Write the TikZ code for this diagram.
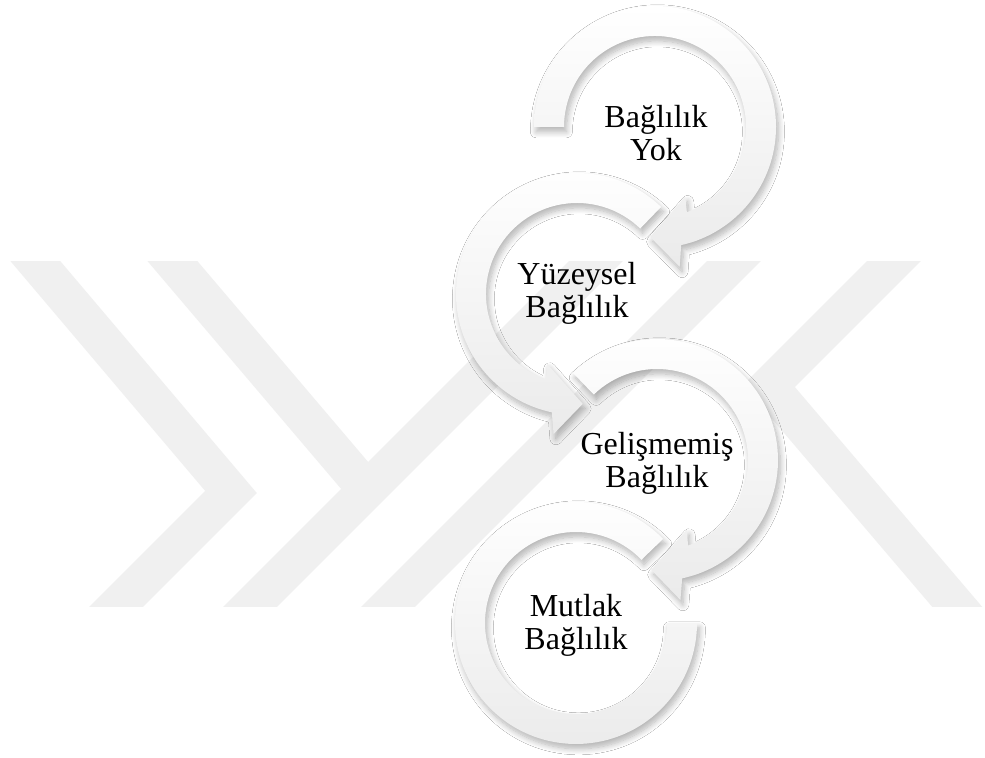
\documentclass[tikz,border=0pt]{standalone}
\usepackage{fontspec}
\setmainfont{Liberation Serif}
\usetikzlibrary{shadows.blur}
\definecolor{wmark}{gray}{0.94}

\begin{document}
\begin{tikzpicture}[x=0.5pt,y=0.5pt,
	arrowring/.style={top color=white, bottom color=gray!16,
		blur shadow={shadow xshift=1.2pt, shadow yshift=-2.4pt, shadow blur radius=3pt, shadow blur steps=10, shadow opacity=30}},
	band/.style={draw=wmark, line width=19pt, line join=miter, miter limit=10},
	lbl/.style={align=center, inner sep=0pt, font=\fontsize{16}{16.5}\selectfont}]
	\useasboundingbox (0,0) rectangle (985,-758);
	\fill[white] (0,0) rectangle (985,-758);
	
	%watermark
	\begin{scope}
		\clip (0,-262) rectangle (985,-607);
		\draw[band] (9,-230) -- (231,-492) -- (80,-643);
		\draw[band] (146,-230) -- (367,-490);
		\draw[band] (214,-643) -- (631,-226);
		\draw[band] (352,-643) -- (769,-226);
		\draw[band] (929,-226) -- (769,-386) -- (988,-643);
	\end{scope}
	
	\coordinate (c1) at (655,-127);
	\coordinate (c2) at (577,-294);
	\coordinate (c3) at (657,-460);
	\coordinate (c4) at (576,-623);
	
	%rings, last one first
	\path[arrowring, shift={(c4)}] (44:121) arc[start angle=44, end angle=360, radius=121]
		-- (0:91) arc[start angle=360, end angle=44, radius=91] -- cycle;
	\path[arrowring, shift={(c3)}] (134:121) arc[start angle=134, end angle=-78, radius=121]
		-- (-80.5:142) -- (-93:110) -- (-67:76) -- (-70:91)
		arc[start angle=-70, end angle=134, radius=91] -- cycle;
	\path[arrowring, shift={(c2)}] (46:121) arc[start angle=46, end angle=258, radius=121]
		-- (260.5:142) -- (273:110) -- (247:76) -- (250:91)
		arc[start angle=250, end angle=46, radius=91] -- cycle;
	\path[arrowring, shift={(c1)}] (180:121) arc[start angle=180, end angle=-77.5, radius=121]
		-- (-80:142) -- (-92.5:110) -- (-66.5:76) -- (-69.5:91)
		arc[start angle=-69.5, end angle=180, radius=91] -- cycle;
	
	%labels
	\node[lbl] (yok) at (656,-133) {Bağlılık\\Yok};
	\node[lbl] (yuzeysel) at (577,-293) {Yüzeysel\\Bağlılık};
	\node[lbl] (gelismemis) at (657,-463) {Gelişmemiş\\Bağlılık};
	\node[lbl] (mutlak) at (576,-625) {Mutlak\\Bağlılık};
\end{tikzpicture}
\end{document}
